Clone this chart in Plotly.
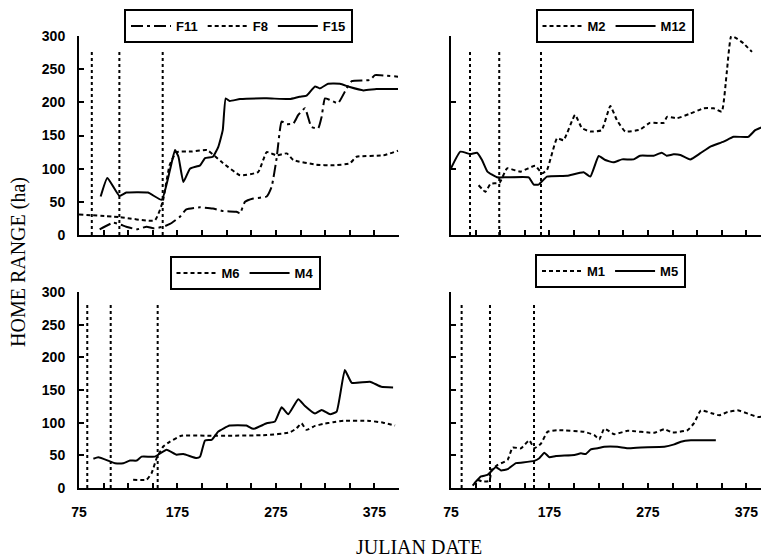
import plotly.graph_objects as go

# ---------------- data ----------------
# Panel 1 (top-left)
f11_x = [96, 110, 123, 133.6, 143.7, 150.5, 160.6, 167.4, 177.6, 184, 198, 211, 221.6, 235, 238.5, 243.6, 252, 265.6, 270.7, 275.7, 280.8, 286, 292.7, 297.7, 304.5, 311, 318, 321.4, 324.8, 330, 338, 346.8, 352, 370.5, 375.6, 387.5, 399]
f11_y = [8.5, 18.6, 12.5, 8.5, 12.5, 10, 12.5, 16.6, 27.6, 38.7, 41.7, 40, 36, 35, 32.7, 50, 55, 58, 73, 115.6, 171, 167, 168, 181, 191, 163, 161, 178, 206, 203.5, 198.5, 221, 232, 233.7, 241, 240, 238.7]
f8_x = [75, 116, 152, 160, 167, 174, 190, 205, 220, 238.5, 257, 265.6, 275.7, 286, 292.7, 316, 333, 350, 357, 384, 399]
f8_y = [31, 27, 22, 50, 105, 125, 126, 128, 110, 90, 95, 125, 120, 123, 113, 106, 105, 108, 118, 120, 127]
f15_x = [97, 103.8, 116, 123, 145, 159, 167.4, 172.5, 176, 181, 187.7, 198, 203, 211, 216.5, 221, 224, 228, 238.5, 265.6, 289, 299, 306, 314.7, 319.7, 328, 340, 350, 364, 377, 399]
f15_y = [58, 86, 59, 64, 64, 53, 98, 128, 118, 80, 100, 105, 116, 118, 133, 158, 206, 202, 205, 206, 205, 208.5, 210, 224, 221, 228, 228, 223, 218, 220, 220]

# Panel 2 (top-right)
m2_x = [103, 110, 115, 124.4, 132, 145.4, 160.6, 167.4, 172.5, 182.7, 189.4, 201, 208, 216.5, 228, 236.8, 243.6, 252, 267, 277, 291, 294.4, 304.5, 318, 331.6, 341.8, 350, 355, 359.7, 365.5, 372, 380.7]
m2_y = [75, 65, 77, 79, 100.5, 95.5, 104.5, 93, 98, 145.7, 143, 181, 161, 156, 158, 194.5, 173, 156, 159, 169, 169, 178, 176, 183, 191, 191, 186, 243.7, 300, 296, 289, 276]
m12_x = [75, 84.5, 94.6, 101.4, 106.5, 112, 121.7, 131.9, 153.9, 159, 164, 172.5, 192.8, 209.7, 216.5, 225, 231.7, 240, 248.7, 260.5, 267, 280.8, 289, 294, 301, 308, 318, 328, 338, 351.9, 362, 377, 384, 392.5, 398]
m12_y = [100.5, 125.6, 122, 124, 113, 95.5, 87, 87, 87, 76, 76, 88, 89.4, 94.5, 88, 119, 113, 109.5, 114, 114, 119.6, 119.6, 124, 119.6, 121.6, 120.6, 114, 123, 133, 140.7, 148, 148, 158, 164, 176]

# Panel 3 (bottom-left)
m6_x = [130, 143.7, 148.8, 153.9, 160.6, 167.4, 179, 214.8, 265.6, 289, 296, 301, 306, 314.7, 323, 333, 343.6, 370.5, 384, 396]
m6_y = [12.7, 12.7, 23, 45.8, 63.5, 71, 80, 79.8, 81, 85, 91.5, 99, 89, 95, 98, 100.6, 103, 102.7, 100, 95.6]
m4_x = [89.6, 94.6, 106.5, 111.6, 120, 126.8, 133.6, 138.6, 152, 164, 174, 181, 194.5, 198, 203, 209.7, 216.5, 228, 245, 252, 265.6, 274, 280.8, 287.5, 297.7, 304.5, 314.7, 321.4, 330, 336.7, 345, 352, 370.5, 382, 394]
m4_y = [44.7, 47, 40.7, 38, 38, 42, 42, 48, 48, 58.5, 51, 52, 45.8, 48, 72.7, 73.7, 86.4, 95.6, 95.6, 90.5, 99, 101.7, 123.5, 113, 136, 125.6, 114, 119.5, 113, 117, 180.5, 161, 162.7, 155, 154]

# Panel 4 (bottom-right)
m1_x = [102, 107, 114, 116.3, 122.4, 132.5, 137.6, 146, 154.5, 159.6, 166.4, 173, 183.3, 210.4, 220.5, 225.6, 230.7, 240.8, 254.4, 281.5, 291.7, 300, 315.3, 322, 328.8, 339, 347.5, 356, 366, 376.6, 386.8, 398.6]
m1_y = [12.6, 10, 11, 27.8, 35.4, 43, 62, 60.7, 73, 60.7, 68, 86, 88.5, 86, 81, 74.4, 91, 82.4, 87.5, 84.5, 90, 85, 88.5, 99.6, 119, 114.8, 111.3, 116.3, 118.9, 113.8, 108.7, 111.3]
m5_x = [97, 100.4, 105.5, 112, 117.3, 120.7, 125.8, 132.5, 141, 147.8, 159.6, 164.7, 169.8, 174.9, 181.6, 200.3, 207, 212, 217, 224, 230.7, 244, 254.4, 268, 291.7, 301.8, 308.5, 318.7, 344]
m5_y = [3.5, 10, 17.7, 20, 27.8, 32, 26.8, 28.8, 38, 39, 41.5, 45.5, 54, 47, 49, 50.6, 53, 52, 59, 60.7, 63, 63, 60.7, 62, 63, 66.8, 70.8, 73, 73]

# vertical reference dates per panel
vlines_p1 = [88, 116, 160]
vlines_p2 = [94.3, 124, 166.4]
vlines_p3 = [83.4, 107.2, 154.9]
vlines_p4 = [85.8, 114.6, 159.3]
vline_tops = [278, 277, 280, 280]

x_ticks = list(range(75, 401, 25))
x_labels = ["75", "175", "275", "375"]

# ---------------- figure ----------------
fig = go.Figure()
OFF = 8            # page body margin of the browser
W, H = 769 - OFF, 560 - OFF

def fx(p):
    return (p - OFF) / W

def fy(p):
    return 1 - (p - OFF) / H

BOLD = dict(family="Liberation Sans, Arial", size=14, color="black", weight="bold")
LEGFONT = dict(family="Liberation Sans, Arial", size=13, color="black", weight="bold")

DOT = "4px,3px"
DASHDOT = "12px,4px,3px,4px"

def add(x, y, name, dash, ax, leg):
    fig.add_trace(go.Scatter(
        x=x, y=y, name=name, mode="lines",
        line=dict(color="black", width=2, dash=dash, shape="spline", smoothing=0.4),
        xaxis="x" + ax, yaxis="y" + ax, legend=leg))

add(f11_x, f11_y, "F11", DASHDOT, "", "legend")
add(f8_x, f8_y, "F8", DOT, "", "legend")
add(f15_x, f15_y, "F15", "solid", "", "legend")
add(m2_x, m2_y, "M2", DOT, "2", "legend2")
add(m12_x, m12_y, "M12", "solid", "2", "legend2")
add(m6_x, m6_y, "M6", DOT, "3", "legend3")
add(m4_x, m4_y, "M4", "solid", "3", "legend3")
add(m1_x, m1_y, "M1", DOT, "4", "legend4")
add(m5_x, m5_y, "M5", "solid", "4", "legend4")

for vl, top, ax in [(vlines_p1, vline_tops[0], ""), (vlines_p2, vline_tops[1], "2"),
                    (vlines_p3, vline_tops[2], "3"), (vlines_p4, vline_tops[3], "4")]:
    for v in vl:
        fig.add_shape(type="line", x0=v, x1=v, y0=0, y1=top,
                      xref="x" + ax, yref="y" + ax,
                      line=dict(color="black", width=2, dash="dot"))

left_dom = [fx(79), fx(399)]
right_dom = [fx(451), 1.0]
top_dom = [fy(235), fy(36)]
bot_dom = [fy(488), fy(292)]

def xaxis(dom, anchor, rng, labels):
    text = [str(v) if (labels and str(v) in x_labels) else "" for v in x_ticks]
    return dict(domain=dom, anchor=anchor, range=rng, tickmode="array",
                tickvals=x_ticks, ticktext=text, ticks="inside", ticklen=5,
                tickwidth=1.5, tickcolor="black", showline=True, linecolor="black",
                linewidth=2, showgrid=False, zeroline=False, tickfont=BOLD,
                ticklabelstandoff=10)

def yaxis(dom, anchor, dtick, labels):
    return dict(domain=dom, anchor=anchor, range=[0, 300], dtick=dtick,
                ticks="inside", ticklen=5, tickwidth=1.5, tickcolor="black",
                showline=True, linecolor="black", linewidth=2, showgrid=False,
                zeroline=False, showticklabels=labels, tickfont=BOLD,
                ticklabelstandoff=9)

def legend(xc, ytop):
    return dict(x=xc, y=ytop, xanchor="center", yanchor="top", orientation="h",
                bordercolor="black", borderwidth=2, bgcolor="white",
                font=LEGFONT, itemwidth=40, tracegroupgap=0)

fig.update_layout(
    width=W, height=H, margin=dict(l=0, r=0, t=0, b=0, autoexpand=False),
    paper_bgcolor="white", plot_bgcolor="white",
    xaxis=xaxis(left_dom, "y", [75, 400], False),
    yaxis=yaxis(top_dom, "x", 50, True),
    xaxis2=xaxis(right_dom, "y2", [75, 398], False),
    yaxis2=yaxis(top_dom, "x2", 100, False),
    xaxis3=xaxis(left_dom, "y3", [75, 400], True),
    yaxis3=yaxis(bot_dom, "x3", 50, True),
    xaxis4=xaxis(right_dom, "y4", [75, 398], True),
    yaxis4=yaxis(bot_dom, "x4", 50, False),
    legend=legend(fx(238.5), fy(9)),
    legend2=legend(fx(614.5), fy(9)),
    legend3=legend(fx(245), fy(256)),
    legend4=legend(fx(610.5), fy(254)),
    annotations=[
        dict(text="HOME RANGE (ha)", x=fx(18), y=fy(262), xref="paper", yref="paper",
             xanchor="center", yanchor="middle",
             textangle=-90, showarrow=False,
             font=dict(family="Liberation Serif, Times New Roman", size=20, color="black")),
        dict(text="JULIAN DATE", x=fx(419), y=0, xref="paper", yref="paper",
             xanchor="center", yanchor="bottom", showarrow=False,
             font=dict(family="Liberation Serif, Times New Roman", size=20, color="black")),
    ],
)

fig.write_html("out.html")
